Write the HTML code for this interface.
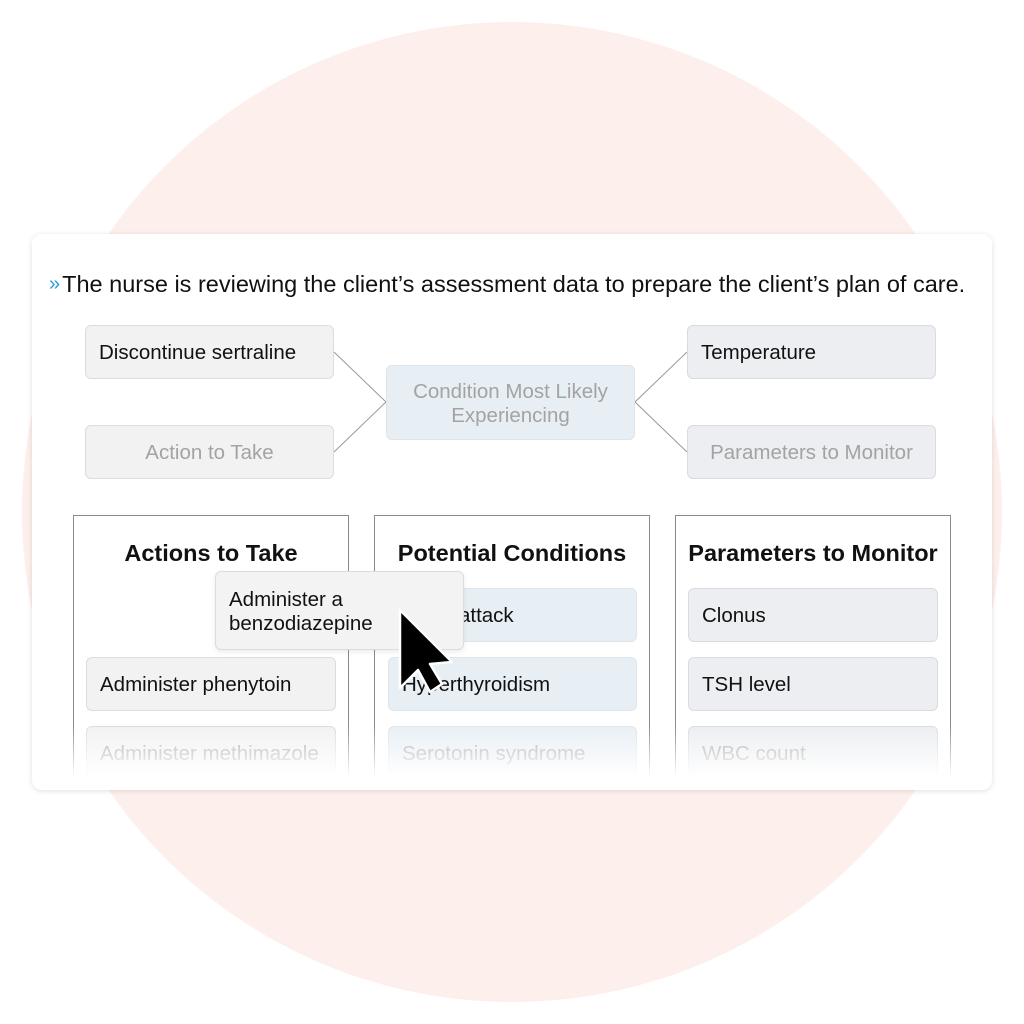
<!DOCTYPE html>
<html><head><meta charset="utf-8"><style>
*{margin:0;padding:0;box-sizing:border-box}
body{width:1024px;height:1024px;background:#fff;position:relative;overflow:hidden;font-family:"Liberation Sans",Arial,sans-serif}
.circle{position:absolute;left:22px;top:22px;width:980px;height:980px;border-radius:50%;background:#fdf0ec}
.card{position:absolute;left:32px;top:234px;width:960px;height:556px;background:#fff;border-radius:10px;box-shadow:0 1px 6px rgba(0,0,0,.12)}
.a{position:absolute}
.q{left:49px;top:271px;font-size:23.5px;color:#111;white-space:nowrap}
.q span{color:#2a9fd8;font-size:20px;margin-right:2px;position:relative;top:-2px}
.box{position:absolute;border:1px solid #dcdcdc;border-radius:6px;background:#f2f2f2;font-size:20.5px;color:#111;display:flex;align-items:center;padding-left:13px;padding-top:2px}
.bl{background:#e8eff4;border-color:#dde5ea}
.gr{background:#eceef1;border-color:#d8dbe0}
.ph{color:#a3a3a3;justify-content:center;padding-left:0}
.col{position:absolute;top:515px;width:276px;height:265px;border:1.5px solid #8a8a8a;border-bottom:none}
.col h3{text-align:center;font-size:23.5px;font-weight:bold;color:#111;margin-top:24px;white-space:nowrap}
.fade{position:absolute;left:60px;top:725px;width:910px;height:57px;background:linear-gradient(rgba(255,255,255,0),#fff 90%)}
</style></head><body>
<div class="circle"></div>
<div class="card"></div>
<div class="a q"><span>»</span>The nurse is reviewing the client’s assessment data to prepare the client’s plan of care.</div>
<svg class="a" style="left:0;top:0" width="1024" height="1024"><g stroke="#999" stroke-width="1" fill="none"><path d="M334 352 L386 402 L334 452"/><path d="M687 352 L635 402 L687 452"/></g></svg>
<div class="box" style="left:85px;top:325px;width:249px;height:54px">Discontinue sertraline</div>
<div class="box ph" style="left:85px;top:425px;width:249px;height:54px">Action to Take</div>
<div class="box bl ph" style="left:386px;top:365px;width:249px;height:75px;text-align:center;line-height:24px">Condition Most Likely<br>Experiencing</div>
<div class="box gr" style="left:687px;top:325px;width:249px;height:54px">Temperature</div>
<div class="box gr ph" style="left:687px;top:425px;width:249px;height:54px">Parameters to Monitor</div>

<div class="col" style="left:73px"><h3>Actions to Take</h3></div>
<div class="col" style="left:374px"><h3>Potential Conditions</h3></div>
<div class="col" style="left:675px"><h3>Parameters to Monitor</h3></div>

<div class="box" style="left:86px;top:657px;width:250px;height:54px">Administer phenytoin</div>
<div class="box" style="left:86px;top:726px;width:250px;height:54px;color:#aaa">Administer methimazole</div>
<div class="box bl" style="left:388px;top:588px;width:249px;height:54px">Panic attack</div>
<div class="box bl" style="left:388px;top:657px;width:249px;height:54px">Hyperthyroidism</div>
<div class="box bl" style="left:388px;top:726px;width:249px;height:54px;color:#aaa">Serotonin syndrome</div>
<div class="box gr" style="left:688px;top:588px;width:250px;height:54px">Clonus</div>
<div class="box gr" style="left:688px;top:657px;width:250px;height:54px">TSH level</div>
<div class="box gr" style="left:688px;top:726px;width:250px;height:54px;color:#aaa">WBC count</div>
<div class="fade"></div>

<div class="box" style="left:215px;top:571px;width:249px;height:79px;line-height:24px;background:#f3f3f3;box-shadow:0 2px 6px rgba(0,0,0,.08)">Administer a<br>benzodiazepine</div>
<svg class="a" style="left:394px;top:604px" width="70" height="95"><path d="M6 6 L6 84 L24 66 L36 88 L48 80 L36 60 L58 58 Z" fill="#000" stroke="#fff" stroke-width="2.5" stroke-linejoin="round"/></svg>
</body></html>
